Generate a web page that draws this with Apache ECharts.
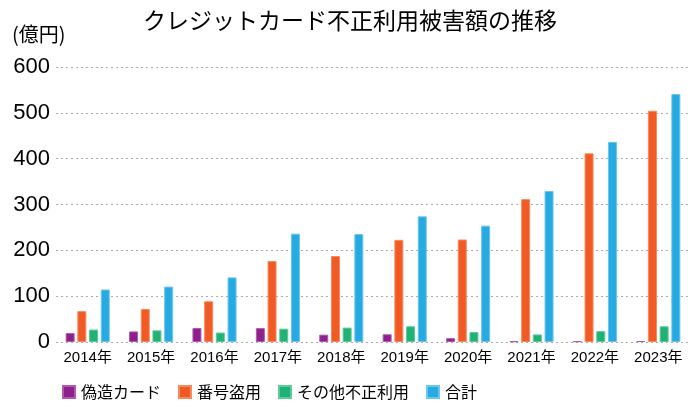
<!DOCTYPE html>
<html><head><meta charset="utf-8">
<script src="https://cdn.jsdelivr.net/npm/echarts@6/dist/echarts.min.js"></script>
<style>html,body{margin:0;padding:0;background:#fff}#c{width:700px;height:415px}</style>
</head><body><div id="c"></div>
<script>
const categories = ['2014年','2015年','2016年','2017年','2018年','2019年','2020年','2021年','2022年','2023年'];
const counterfeit = [19.5, 23.1, 30.6, 30.3, 16.0, 16.9, 8.3, 1.6, 1.6, 2.0];
const numberTheft = [67.3, 72.2, 88.9, 176.7, 187.6, 222.9, 223.6, 311.7, 411.7, 504.7];
const otherFraud = [27.2, 25.4, 20.6, 29.1, 31.4, 34.3, 21.8, 16.5, 23.7, 34.3];
const total = [114.5, 120.9, 140.9, 236.4, 235.4, 274.1, 253.9, 329.5, 436.7, 540.9];
const seriesNames = ['偽造カード','番号盗用','その他不正利用','合計'];
const colors = ['#8e1f8c','#f15a24','#1fb274','#27a9e1'];
const borders = ['#b05aae','#f78a5e','#5ccb9a','#6cc5ee'];
const yTicks = [0,100,200,300,400,500,600];

const cjk = '"Noto Sans CJK JP", sans-serif';
const latin = '"Liberation Sans", "Noto Sans CJK JP", sans-serif';
const chart = echarts.init(document.getElementById('c'), null, {renderer:'canvas'});
const dataSets = [counterfeit, numberTheft, otherFraud, total];
chart.setOption({
  animation:false,
  color: colors,
  title:{text:'クレジットカード不正利用被害額の推移', left:'center', top:4,
    textStyle:{fontFamily:cjk, fontSize:23, fontWeight:'normal', color:'#000'}},
  legend:{bottom:10, left:57, itemWidth:12, itemHeight:12, itemGap:17, icon:'rect',
    textStyle:{fontFamily:cjk, fontSize:16, color:'#000', padding:[0,0,0,1]}},
  grid:{left:56, right:10, top:67, bottom:73},
  xAxis:{type:'category', data:categories,
    axisLine:{show:false}, axisTick:{show:false},
    axisLabel:{interval:0, fontFamily:latin, fontSize:15, color:'#000', margin:8}},
  yAxis:{type:'value', min:0, max:600, interval:100,
    name:'(億円)', nameLocation:'end', nameGap:23,
    nameTextStyle:{fontFamily:cjk, fontSize:20, color:'#000', align:'left', padding:[0,0,0,-44]},
    axisLine:{show:false}, axisTick:{show:false},
    axisLabel:{fontFamily:latin, fontSize:22, color:'#000', margin:6,
      formatter: v => yTicks.includes(v) ? String(v) : ''},
    splitLine:{lineStyle:{type:[2,3], color:'#aaa', width:1}}},
  series: seriesNames.map((n,i)=>({
    name:n, type:'bar', data:dataSets[i], barWidth:9, barGap:'30%',
    itemStyle:{color:colors[i], borderColor:borders[i], borderWidth:1}
  }))
});
</script></body></html>
